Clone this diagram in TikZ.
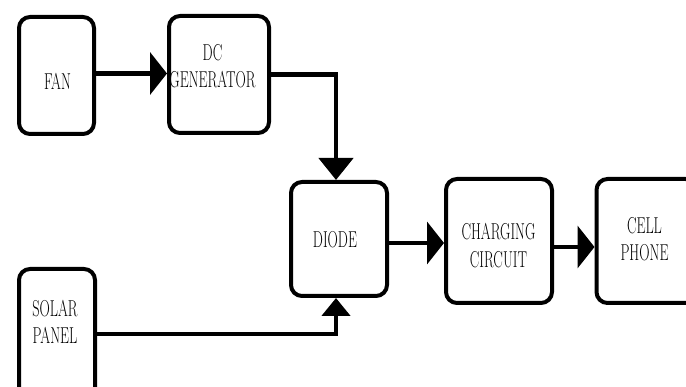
\documentclass[tikz,border=0pt]{standalone}
\usepackage{graphicx}
\usetikzlibrary{arrows.meta}

\newcommand{\narrow}[1]{\scalebox{0.62}[1]{#1}}

\begin{document}
\begin{tikzpicture}[
        x=1pt, y=-1pt,
        blk/.style={draw, line width=4pt, rounded corners=11pt, inner sep=0pt},
        txt/.style={font=\rmfamily\fontsize{23}{27.5}\selectfont, align=center, inner sep=0pt},
        flow/.style={line width=4.5pt, -{Triangle[length=17pt,width=42pt]}}
    ]
        \useasboundingbox (0,0) rectangle (686,387);
        \clip (0,0) rectangle (686,387);

        % blocks
        \node [blk, minimum width=75pt, minimum height=117pt] (fan)    at (56.5,75.5) {};
        \node [blk, minimum width=100pt, minimum height=117pt] (gen)   at (219,74.5) {};
        \node [blk, minimum width=96pt, minimum height=114pt] (diode)  at (339,239) {};
        \node [blk, minimum width=106pt, minimum height=124pt] (charge) at (499,241) {};
        \node [blk, minimum width=100pt, minimum height=124pt] (cell)    at (646.5,241) {};
        \node [blk, minimum width=76pt, minimum height=130pt] (solar)    at (57,334) {};

        % texts
        \node [txt] (fan-t)    at (57.5,81.5) {\narrow{FAN}};
        \node [txt] (gen-t)    at (212.5,66) {\narrow{DC}\\\narrow{GENERATOR}};
        \node [txt] (diode-t)  at (335,240) {\narrow{DIODE}};
        \node [txt] (charge-t) at (498.5,245.5) {\narrow{CHARGING}\\\narrow{CIRCUIT}};
        \node [txt] (cell-t)   at (644.5,239) {\narrow{CELL}\\\narrow{PHONE}};
        \node [txt] (solar-t)  at (55,322) {\narrow{SOLAR}\\\narrow{PANEL}};

        % connections
        \draw [flow] ([yshift=2pt]fan.east) -- ([yshift=2pt]fan.east -| gen.west);
        \draw [flow, -{Triangle[length=22pt,width=34pt]}] (gen.east) -| ([xshift=-3pt]diode.north);
        \draw [flow, -{Triangle[length=18pt,width=28pt]}] (solar.east) -| ([xshift=-3pt]diode.south);
        \draw [flow] ([yshift=-4pt]diode.east) -- ([yshift=-4pt]diode.east -| charge.west);
        \draw [flow] ([yshift=-6pt]charge.east) -- ([yshift=-6pt]charge.east -| cell.west);
    \end{tikzpicture}
\end{document}
